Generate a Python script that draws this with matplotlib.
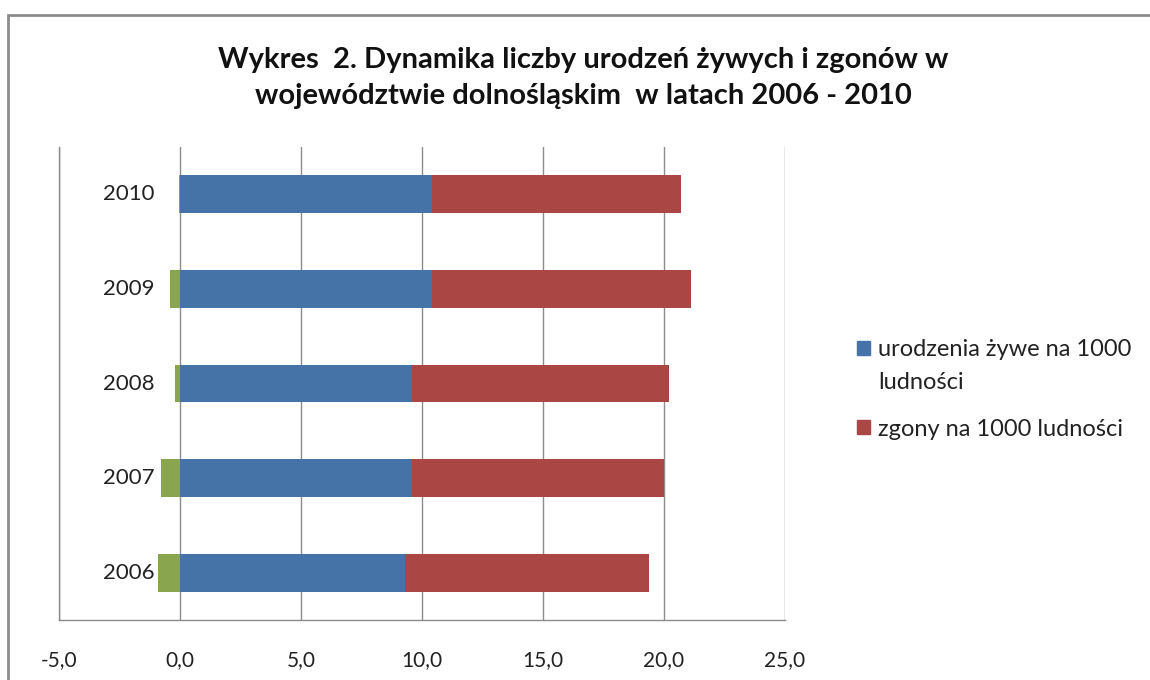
import matplotlib
matplotlib.use("Agg")
import matplotlib.pyplot as plt
from matplotlib.patches import Rectangle, Patch

# ===== DATA =====
years = ["2006", "2007", "2008", "2009", "2010"]
births = [9.3, 9.6, 9.6, 10.4, 10.4]        # urodzenia żywe na 1000 ludności
deaths = [10.1, 10.4, 10.6, 10.7, 10.3]     # zgony na 1000 ludności
increase = [-0.9, -0.8, -0.2, -0.4, -0.05]  # przyrost naturalny
x_ticks = [-5.0, 0.0, 5.0, 10.0, 15.0, 20.0, 25.0]

title = "Wykres  2. Dynamika liczby urodzeń żywych i zgonów w\nwojewództwie dolnośląskim  w latach 2006 - 2010"
labels = ["urodzenia żywe na 1000", "zgony na 1000 ludności"]
label_wrap = "ludności"  # second line of the first legend entry

c_blue = "#4572a7"
c_red = "#aa4643"
c_green = "#89a54e"

plt.rcParams['font.family'] = ['Lato', 'DejaVu Sans']

# ===== SETUP PLOT =====
fig = plt.figure(figsize=(11.5, 6.8), dpi=100)
ax = fig.add_axes([59 / 1150, 1 - 620 / 680, (785 - 59) / 1150, (620 - 147) / 680])

# outer chart frame
fig.patches.append(Rectangle((8 / 1150, -0.1), 1.2, 1 - 15 / 680 + 0.1,
                             transform=fig.transFigure, fill=False,
                             edgecolor="#8c8c8c", linewidth=2))

ypos = list(range(len(years)))
h = 0.4
ax.barh(ypos, increase, height=h, color=c_green, zorder=3)
ax.barh(ypos, births, height=h, color=c_blue, zorder=3)
ax.barh(ypos, deaths, left=births, height=h, color=c_red, zorder=3)

ax.set_xlim(-5, 25)
ax.set_ylim(-0.5, len(years) - 0.5)
ax.set_xticks(x_ticks)
ax.set_xticklabels([f"{v:.1f}".replace(".", ",") for v in x_ticks])
ax.set_yticks([])
ax.tick_params(axis="x", length=0, labelsize=15, colors="#222222", pad=22)

# category labels sit inside the plot, just left of the zero line
for y, yr in zip(ypos, years):
    ax.text(-1.05, y, yr, ha="right", va="center", fontsize=16,
            color="#222222", zorder=5)

ax.grid(axis="x", color="#8c8c8c", linewidth=1, zorder=0)
for side in ["top", "right"]:
    ax.spines[side].set_visible(False)
for side in ["left", "bottom"]:
    ax.spines[side].set_color("#8c8c8c")
    ax.spines[side].set_linewidth(1)

fig.text(0.507, 1 - 78 / 680, title, ha="center", va="center",
         fontsize=21, fontweight="bold", linespacing=1.5, color="#111111")

handles = [Patch(color=c_blue), Patch(color=c_red)]
leg = fig.legend(handles, labels, loc="upper left", bbox_to_anchor=(836 / 1150, 1 - 318 / 680),
                 frameon=False, fontsize=17, handlelength=0.55, handleheight=0.55,
                 handletextpad=0.35, labelspacing=2.47, labelcolor="#222222")

# wrapped second line under the first legend label
fig.canvas.draw()
bb = leg.get_texts()[0].get_window_extent().transformed(fig.transFigure.inverted())
fig.text(bb.x0, bb.y0 - 12 / 680, label_wrap, ha="left", va="top",
         fontsize=17, color="#222222")

fig.savefig("out.png", dpi=100)
